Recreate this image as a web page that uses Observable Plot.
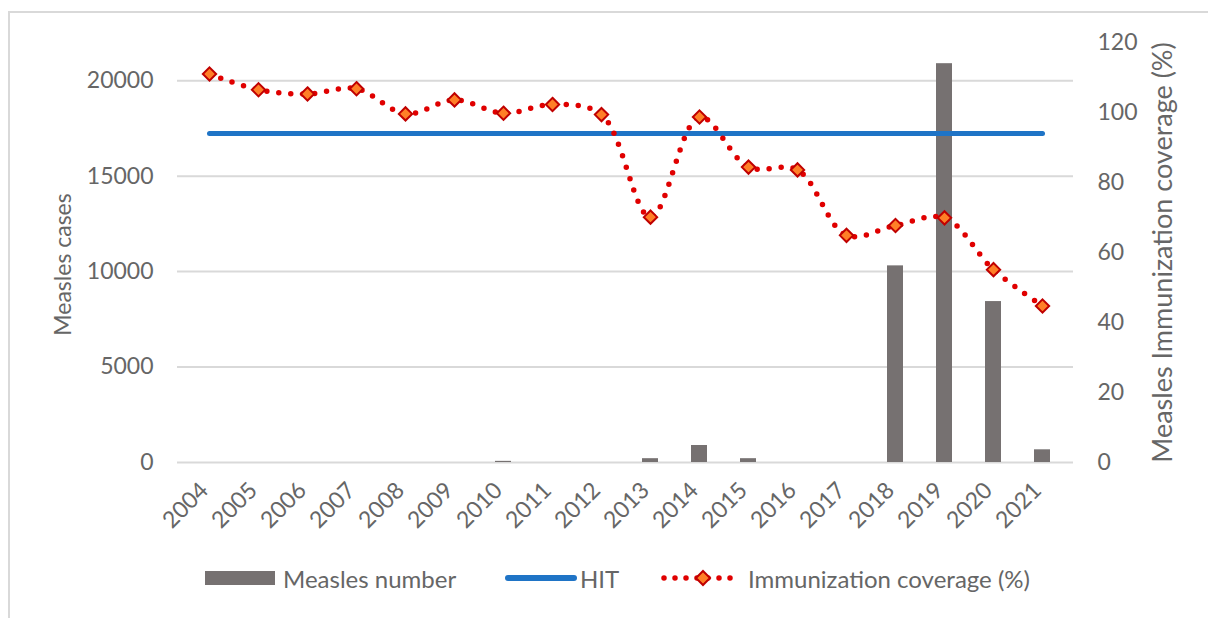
<!DOCTYPE html>
<html><head><meta charset="utf-8">
<script src="https://cdn.jsdelivr.net/npm/d3@7"></script>
<script src="https://cdn.jsdelivr.net/npm/@observablehq/plot@0.6"></script>
<style>
body{margin:0;background:#fff;font-family:Lato,sans-serif;width:1208px;height:618px;overflow:hidden;position:relative;}
#frame{position:absolute;left:8px;top:11px;width:1300px;height:700px;border-left:2px solid #d9d9d9;border-top:2px solid #d9d9d9;}
#chart{position:absolute;left:0;top:0;}
.leg{position:absolute;top:564px;height:28px;display:flex;align-items:center;font-size:24px;color:#666;white-space:nowrap;}
</style>
</head><body>
<div id="frame"></div>
<div id="chart"></div>
<div class="leg" style="left:205px"><span style="display:inline-block;width:70px;height:14px;background:#767171;margin-right:8px"></span>Measles number</div>
<div class="leg" style="left:505px"><svg width="72" height="10" style="margin-right:3px"><line x1="3" y1="5" x2="69" y2="5" stroke="#1f74c6" stroke-width="6" stroke-linecap="round"/></svg>HIT</div>
<div class="leg" style="left:660px"><svg width="82" height="20" style="margin-right:6px"><line x1="4" y1="10" x2="80" y2="10" stroke="#e00000" stroke-width="5.5" stroke-dasharray="0,11" stroke-linecap="round"/><path d="M43,3 L50,10 L43,17 L36,10 Z" fill="#ff7f27" stroke="#c00000" stroke-width="2"/></svg>Immunization coverage (%)</div>
<script>
const years = [2004,2005,2006,2007,2008,2009,2010,2011,2012,2013,2014,2015,2016,2017,2018,2019,2020,2021];
const measlesCases = [0,0,0,0,0,0,60,0,0,200,890,200,0,0,10300,20890,8430,665];
const coverage = [111,106.5,105.3,106.8,99.6,103.6,99.8,102.3,99.4,70.1,98.7,84.4,83.6,64.9,67.7,69.9,55.1,44.7];
const hitValue = 94;
const leftTicks = [0,5000,10000,15000,20000];
const rightTicks = [0,20,40,60,80,100,120];
const leftMax = 22000, rightMax = 120;
const k = leftMax / rightMax;

const rows = years.map((y,i)=>({year:String(y), cases:measlesCases[i], cov:coverage[i]*k, hit:hitValue*k}));

const chart = Plot.plot({
  width:1208, height:540,
  marginLeft:177, marginRight:135, marginTop:42, marginBottom:78,
  style:{fontFamily:"Lato, sans-serif", fontSize:"23px", color:"#666", background:"transparent", overflow:"visible"},
  x:{type:"band", domain:years.map(String), paddingInner:0.68, paddingOuter:0.34},
  y:{domain:[0,leftMax]},
  marks:[
    Plot.gridY(leftTicks,{stroke:"#d9d9d9", strokeOpacity:1, strokeWidth:2}),
    Plot.barY(rows,{x:"year", y:"cases", fill:"#767171"}),
    Plot.line(rows,{x:"year", y:"hit", stroke:"#1f74c6", strokeWidth:5, strokeLinecap:"round"}),
    Plot.line(rows,{x:"year", y:"cov", curve:"catmull-rom", stroke:"#e00000", strokeWidth:5.5, strokeDasharray:"0,12", strokeLinecap:"round"}),
    Plot.dot(rows,{x:"year", y:"cov", symbol:"diamond2", r:6, fill:"#ff7f27", stroke:"#c00000", strokeWidth:2}),
    Plot.axisY(leftTicks,{anchor:"left", tickSize:0, tickPadding:24, tickFormat:d=>String(d), label:null, fontSize:23, fill:"#666"}),
    Plot.axisY(rightTicks.map(v=>v*k),{anchor:"right", tickSize:0, tickPadding:24, tickFormat:d=>String(Math.round(d/k)), label:null, fontSize:23, fill:"#666"}),
    Plot.axisX({tickRotate:-45, tickSize:0, tickPadding:20, dx:-5, dy:4, label:null, fontSize:23, fill:"#666"}),
    Plot.text(["Measles cases"],{frameAnchor:"left", textAnchor:"middle", dx:-114, dy:12, rotate:-90, fontSize:23, fill:"#666"}),
    Plot.text(["Measles Immunization coverage (%)"],{frameAnchor:"right", textAnchor:"middle", dx:90, rotate:-90, fontSize:27, fill:"#666"})
  ]
});
document.getElementById("chart").appendChild(chart);
</script>
</body></html>
